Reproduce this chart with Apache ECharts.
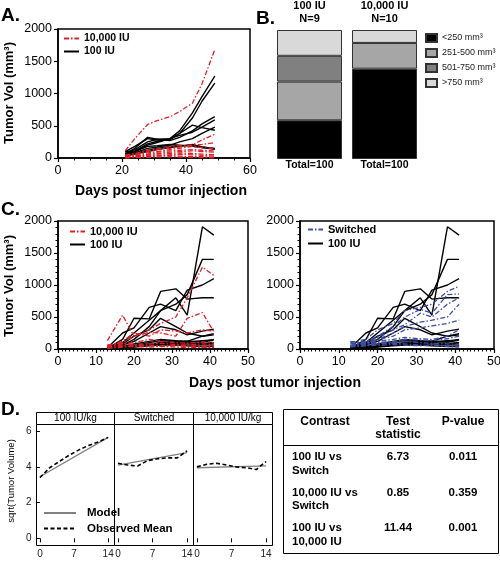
<!DOCTYPE html>
<html><head><meta charset="utf-8">
<script src="https://cdn.jsdelivr.net/npm/echarts@6/dist/echarts.min.js"></script>
<style>html,body{margin:0;padding:0;background:#fff}#c{width:500px;height:568px}</style>
</head><body><div id="c"></div>
<script>
// ---------- DATA ----------
// Panel A
const daysA = [21, 24, 28, 31, 35, 38, 42, 45, 49];
const a100 = [
  [90, 130, 250, 290, 300, 420, 700, 950, 1270],
  [70, 110, 220, 260, 290, 380, 620, 880, 1160],
  [60, 150, 320, 290, 270, 320, 420, 530, 640],
  [100, 180, 300, 280, 290, 380, 510, 470, 430],
  [50, 100, 200, 240, 300, 350, 400, 480, 590],
  [40, 80, 150, 170, 200, 250, 300, 380, 480],
  [40, 70, 120, 150, 180, 190, 200, 170, 150],
  [30, 60, 100, 130, 160, 180, 210, 170, 140],
  [60, 100, 180, 190, 210, 200, 180, 160, 140]
];
const a10k = [
  [110, 300, 520, 580, 640, 720, 850, 1150, 1680],
  [50, 70, 100, 130, 180, 190, 200, 280, 370],
  [40, 60, 120, 140, 150, 170, 200, 210, 240],
  [30, 50, 80, 100, 130, 150, 180, 160, 150],
  [20, 40, 60, 90, 110, 120, 130, 120, 110],
  [10, 30, 50, 70, 90, 100, 110, 100, 90],
  [20, 30, 40, 60, 70, 80, 70, 60, 50],
  [10, 20, 30, 40, 50, 60, 50, 40, 30],
  [5, 10, 20, 30, 40, 30, 20, 20, 10],
  [0, 5, 10, 15, 20, 15, 10, 5, 0]
];
// Panel B
const groupNames = ['100 IU', '10,000 IU'];
const groupN = [9, 10];
const groupTotals = [100, 100];
const sizeBins = ['<250 mm³', '251-500 mm³', '501-750 mm³', '>750 mm³'];
const pctLt250 = [30, 70];
const pct251to500 = [30, 20];
const pct501to750 = [20, 0];
const pctGt750 = [20, 10];
// Panel C
const daysC = [13, 17, 20, 24, 27, 31, 34, 38, 41];
const c100 = [
  [20, 60, 150, 350, 600, 800, 530, 1910, 1780],
  [30, 100, 250, 450, 600, 700, 850, 1400, 1400],
  [10, 150, 480, 470, 900, 940, 780, 800, 800],
  [20, 250, 330, 650, 700, 600, 920, 1000, 1100],
  [15, 80, 200, 300, 480, 350, 250, 200, 240],
  [20, 60, 120, 250, 350, 300, 220, 280, 310],
  [10, 40, 80, 120, 150, 130, 120, 200, 220],
  [10, 30, 60, 100, 130, 120, 110, 130, 140],
  [5, 30, 50, 80, 100, 110, 100, 120, 100],
  [5, 20, 40, 60, 80, 90, 80, 90, 80],
  [10, 25, 50, 70, 90, 100, 120, 110, 150],
  [5, 15, 30, 50, 60, 70, 60, 70, 60],
  [10, 20, 40, 60, 70, 60, 50, 40, 40]
];
const c10k = [
  [60, 100, 200, 300, 400, 500, 800, 1280, 1150],
  [130, 530, 200, 260, 250, 200, 480, 570, 270],
  [50, 120, 250, 200, 300, 280, 250, 300, 280],
  [40, 80, 100, 150, 120, 100, 90, 110, 100],
  [30, 60, 70, 80, 90, 70, 60, 80, 70],
  [20, 40, 50, 60, 50, 60, 50, 40, 50],
  [10, 30, 40, 30, 40, 30, 20, 30, 20],
  [60, 90, 60, 50, 40, 50, 40, 30, 30]
];
const cSwitched = [
  [100, 150, 300, 400, 600, 650, 700, 900, 980],
  [80, 120, 200, 350, 500, 620, 560, 850, 860],
  [60, 100, 180, 300, 380, 560, 500, 700, 800],
  [50, 90, 150, 250, 350, 420, 450, 500, 700],
  [40, 100, 150, 200, 300, 330, 360, 400, 450],
  [120, 80, 120, 150, 180, 160, 150, 200, 300],
  [30, 60, 100, 120, 150, 140, 130, 160, 200],
  [50, 70, 90, 100, 120, 100, 90, 80, 70],
  [100, 60, 80, 90, 80, 60, 50, 40, 30],
  [40, 50, 60, 70, 60, 50, 60, 50, 40]
];
// Panel D
const facets = ['100 IU/kg', 'Switched', '10,000 IU/kg'];
const obsDays = [0, 2, 4, 6, 8, 10, 12, 14];
const obsMean100 = [3.4, 3.95, 4.3, 4.65, 4.95, 5.2, 5.4, 5.65];
const obsMeanSw = [4.2, 4.1, 4.05, 4.35, 4.45, 4.5, 4.5, 4.9];
const obsMean10k = [4.0, 4.15, 4.2, 4.1, 4.0, 3.95, 3.85, 4.3];
const modelDays = [0, 14];
const model100 = [3.45, 5.65];
const modelSw = [4.1, 4.8];
const model10k = [3.95, 4.05];
const dTicksX = [0, 7, 14];
const dTicksY = [0, 2, 4, 6];
// Table
const tableHead = ['Contrast', 'Test\nstatistic', 'P-value'];
const contrasts = ['100 IU vs\nSwitch', '10,000 IU vs\nSwitch', '100 IU vs\n10,000 IU'];
const testStats = ['6.73', '0.85', '11.44'];
const pValues = ['0.011', '0.359', '0.001'];

// ---------- CHART ----------
const FONT = '"Liberation Sans", Arial, sans-serif';
const RED = '#e41e26', BLUE = '#3d4ea6';
const DASHDOT = [5, 2, 1.5, 2];
const chart = echarts.init(document.getElementById('c'));

function lines(name, days, rows, xi, yi, color, dash, width) {
  return rows.map(r => ({
    type: 'line', name, xAxisIndex: xi, yAxisIndex: yi,
    data: days.map((d, i) => [d, r[i]]),
    symbol: 'none', showSymbol: false, silent: true,
    lineStyle: { color, width, type: dash }, itemStyle: { color }
  }));
}
function valAxis(gridIndex, min, max, interval, minor) {
  return {
    type: 'value', gridIndex, min, max, interval,
    axisLine: { show: true, onZero: false, lineStyle: { color: '#000', width: 1.5 } },
    axisTick: { show: true, length: 4, lineStyle: { color: '#000', width: 1.2 } },
    minorTick: { show: !!minor, splitNumber: minor || 5, length: 2.5, lineStyle: { color: '#000', width: 1 } },
    axisLabel: { color: '#000', fontSize: 12.5, fontFamily: FONT, margin: 6, formatter: v => String(v) },
    splitLine: { show: false }, minorSplitLine: { show: false }
  };
}
const dLeft = [36.5, 114.5, 193.5], dW = [78, 79, 79];
function dX(gi) {
  return {
    type: 'value', gridIndex: gi, min: -0.7, max: 15.3,
    axisLine: { show: false },
    axisTick: { show: true, customValues: dTicksX, length: 4, lineStyle: { color: '#000' } },
    axisLabel: { customValues: dTicksX, fontSize: 10, color: '#222', margin: 4, fontFamily: FONT },
    splitLine: { show: false }
  };
}
function dY(gi, first) {
  return {
    type: 'value', gridIndex: gi, min: -0.4, max: 6.37,
    axisLine: { show: false },
    axisTick: { show: first, customValues: dTicksY, length: 4, lineStyle: { color: '#000' } },
    axisLabel: { show: first, customValues: dTicksY, fontSize: 10, color: '#222', margin: 5, fontFamily: FONT },
    splitLine: { show: false }
  };
}
function txt(text, x, y, size, o) {
  o = o || {};
  const al = o.align || 'center', va = o.valign || 'middle';
  return {
    type: 'text', x, y, rotation: o.rot || 0, silent: true,
    style: {
      text, fill: '#000', font: (o.weight || 'bold') + ' ' + size + 'px ' + (o.family || FONT),
      textAlign: al, align: al, textVerticalAlign: va, verticalAlign: va,
      lineHeight: o.lh || size * 1.15
    }
  };
}

const gridBox = { show: true, borderColor: '#000', borderWidth: 1.5, outerBoundsMode: 'none' };
const grids = [
  Object.assign({ left: 58, top: 29, width: 192, height: 129 }, gridBox),
  { left: 272, top: 30, width: 150, height: 129, outerBoundsMode: 'none' },
  Object.assign({ left: 58, top: 221, width: 190, height: 128 }, gridBox),
  Object.assign({ left: 300, top: 221, width: 194, height: 128 }, gridBox)
];
for (let i = 0; i < 3; i++) grids.push({ left: dLeft[i], top: 424.5, width: dW[i], height: 121, show: true, borderColor: '#000', borderWidth: 1, outerBoundsMode: 'none' });

const xAxes = [
  valAxis(0, 0, 60, 20, 4),
  { type: 'category', gridIndex: 1, data: groupNames, position: 'bottom',
    axisLine: { show: false }, axisTick: { show: false },
    axisLabel: { formatter: (v, i) => 'Total=' + groupTotals[i], fontWeight: 'bold', fontSize: 10.5, color: '#000', margin: 1, fontFamily: FONT } },
  { type: 'category', gridIndex: 1, data: groupNames, position: 'top',
    axisLine: { show: false }, axisTick: { show: false },
    axisLabel: { formatter: (v, i) => v + '\nN=' + groupN[i], fontWeight: 'bold', fontSize: 11, lineHeight: 13, color: '#000', margin: 5, fontFamily: FONT } },
  valAxis(2, 0, 50, 10, 10),
  valAxis(3, 0, 50, 10, 10),
  dX(4), dX(5), dX(6)
];
const yAxes = [
  valAxis(0, 0, 2000, 500, 0),
  { type: 'value', gridIndex: 1, min: 0, max: 100, show: false },
  valAxis(2, 0, 2000, 500, 5),
  valAxis(3, 0, 2000, 500, 5),
  dY(4, true), dY(5, false), dY(6, false)
];

let series = [];
series = series.concat(lines('100 IU', daysA, a100, 0, 0, '#000', 'solid', 1.4));
series = series.concat(lines('10,000 IU', daysA, a10k, 0, 0, RED, DASHDOT, 1.3));
const binColors = ['#000000', '#a6a6a6', '#808080', '#d9d9d9'];
[pctLt250, pct251to500, pct501to750, pctGt750].forEach((arr, k) => {
  series.push({ type: 'bar', name: sizeBins[k], stack: 'b', xAxisIndex: 1, yAxisIndex: 1,
    data: arr, barWidth: 65, silent: true,
    itemStyle: { color: binColors[k], borderColor: '#333', borderWidth: 1 } });
});
series = series.concat(lines('100 IU', daysC, c100, 3, 2, '#000', 'solid', 1.4));
series = series.concat(lines('10,000 IU', daysC, c10k, 3, 2, RED, DASHDOT, 1.3));
series = series.concat(lines('100 IU', daysC, c100, 4, 3, '#000', 'solid', 1.4));
series = series.concat(lines('Switched', daysC, cSwitched, 4, 3, BLUE, DASHDOT, 1.3));
const models = [model100, modelSw, model10k];
const obs = [obsMean100, obsMeanSw, obsMean10k];
for (let i = 0; i < 3; i++) {
  series.push({ type: 'line', name: 'Model', xAxisIndex: 5 + i, yAxisIndex: 4 + i,
    data: modelDays.map((d, k) => [d, models[i][k]]), symbol: 'none', silent: true,
    lineStyle: { color: '#808080', width: 1.3 }, itemStyle: { color: '#808080' } });
  series.push({ type: 'line', name: 'Observed Mean', xAxisIndex: 5 + i, yAxisIndex: 4 + i,
    data: obsDays.map((d, k) => [d, obs[i][k]]), symbol: 'none', silent: true,
    lineStyle: { color: '#000', width: 1.6, type: [4, 2.5] }, itemStyle: { color: '#000' } });
}

const lineLeg = { orient: 'vertical', padding: 0, selectedMode: false, itemStyle: { opacity: 0 } };
const legends = [
  Object.assign({}, lineLeg, { data: ['10,000 IU', '100 IU'], left: 63, top: 33, itemWidth: 15, itemHeight: 8, itemGap: 2,
    textStyle: { fontWeight: 'bold', fontSize: 10.5, lineHeight: 10, color: '#000', fontFamily: FONT } }),
  { orient: 'vertical', padding: 0, selectedMode: false, data: sizeBins, left: 425, top: 33, itemWidth: 11, itemHeight: 8, itemGap: 5, icon: 'rect',
    textStyle: { fontSize: 9, lineHeight: 10, color: '#222', fontFamily: FONT } },
  Object.assign({}, lineLeg, { data: ['10,000 IU', '100 IU'], left: 69, top: 226, itemWidth: 15, itemHeight: 8, itemGap: 2,
    textStyle: { fontWeight: 'bold', fontSize: 11, lineHeight: 10, color: '#000', fontFamily: FONT } }),
  Object.assign({}, lineLeg, { data: ['Switched', '100 IU'], left: 307, top: 224, itemWidth: 15, itemHeight: 8, itemGap: 3,
    textStyle: { fontWeight: 'bold', fontSize: 11, lineHeight: 10, color: '#000', fontFamily: FONT } }),
  Object.assign({}, lineLeg, { data: ['Model', 'Observed Mean'], left: 43, top: 507, itemWidth: 32, itemHeight: 8, itemGap: 3.5,
    textStyle: { fontWeight: 'bold', fontSize: 11.5, lineHeight: 10, color: '#000', fontFamily: FONT, padding: [0, 0, 0, 6] } })
];

const graphics = [
  txt('A.', 1, 16, 19, { align: 'left' }),
  txt('B.', 256, 19, 19, { align: 'left' }),
  txt('C.', 1, 210, 19, { align: 'left' }),
  txt('D.', 1, 410, 19, { align: 'left' }),
  txt('Tumor Vol (mm³)', 9, 93, 13, { rot: Math.PI / 2 }),
  txt('Days post tumor injection', 161, 191, 14),
  txt('Tumor Vol (mm³)', 9, 286, 13, { rot: Math.PI / 2 }),
  txt('Days post tumor injection', 275, 383, 14),
  txt('sqrt(Tumor Volume)', 11, 481, 9.5, { rot: Math.PI / 2, weight: 'normal' })
];
for (let i = 0; i < 3; i++) {
  graphics.push({ type: 'rect', silent: true, shape: { x: dLeft[i], y: 412.5, width: dW[i], height: 12 },
    style: { fill: '#fff', stroke: '#000', lineWidth: 1 } });
  graphics.push(txt(facets[i], dLeft[i] + dW[i] / 2, 418.5, 10, { weight: 'normal' }));
}
// table
const tX = 283.5, tY = 409.5, tW = 215, tH = 144, headY = 445.5;
const colC = [325, 398, 463];
graphics.push({ type: 'rect', silent: true, shape: { x: tX, y: tY, width: tW, height: tH }, style: { fill: 'none', stroke: '#000', lineWidth: 1 } });
graphics.push({ type: 'line', silent: true, shape: { x1: tX, y1: headY, x2: tX + tW, y2: headY }, style: { stroke: '#000', lineWidth: 1 } });
tableHead.forEach((h, j) => graphics.push(txt(h, colC[j], 415.5, 12, { valign: 'top', lh: 12.6 })));
const rowY = [457.3, 492.7, 528.3];
contrasts.forEach((c, r) => {
  graphics.push(txt(c, 292, rowY[r] - 6.7, 11.5, { align: 'left', valign: 'top', lh: 13.4 }));
  graphics.push(txt(testStats[r], colC[1], rowY[r], 11.5));
  graphics.push(txt(pValues[r], colC[2], rowY[r], 11.5));
});

chart.setOption({
  animation: false,
  backgroundColor: '#fff',
  textStyle: { fontFamily: FONT },
  grid: grids, xAxis: xAxes, yAxis: yAxes,
  legend: legends, series, graphic: { elements: graphics }
});
</script></body></html>
